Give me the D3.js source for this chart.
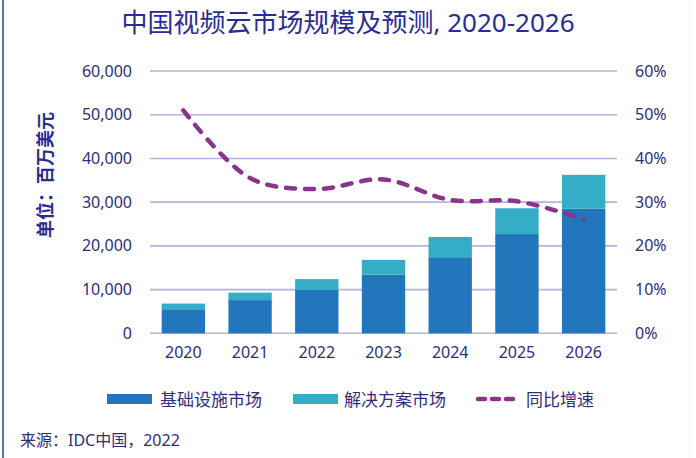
<!DOCTYPE html>
<html><head><meta charset="utf-8">
<script src="https://cdn.jsdelivr.net/npm/d3@7"></script>
<style>
body{margin:0;background:#fff;}
svg{display:block;}
text{font-family:"Noto Sans","Noto Sans CJK SC",sans-serif;}
</style></head>
<body>
<svg id="chart" width="696" height="458"></svg>
<script>
const years = ["2020","2021","2022","2023","2024","2025","2026"];
const infraValues = [5500, 7600, 9900, 13400, 17400, 22700, 28500];
const solutionValues = [1300, 1700, 2500, 3400, 4650, 5900, 7750];
const growthValues = [0.51, 0.355, 0.33, 0.352, 0.305, 0.302, 0.261];
const leftTicks = [0, 10000, 20000, 30000, 40000, 50000, 60000];
const rightTicks = [0, 0.1, 0.2, 0.3, 0.4, 0.5, 0.6];
const seriesNames = ["基础设施市场", "解决方案市场", "同比增速"];
const titleText = "中国视频云市场规模及预测, 2020-2026";
const yLabelText = "单位：百万美元";
const sourceText = "来源：IDC中国，2022";

const textColor = "#2c2e7c";
const titleColor = "#2a2c94";
const infraColor = "#2176bc";
const solColor = "#36adc7";
const lineColor = "#8a3589";
const gridColor = "#b3b4e0";

const svg = d3.select("#chart");
const L = 150, R = 617, T = 71, B = 333.3;

const x = d3.scaleBand().domain(years).range([L, R]).paddingInner(0.35).paddingOuter(0.175);
const y = d3.scaleLinear().domain([0, 60000]).range([B, T]);
const y2 = d3.scaleLinear().domain([0, 0.6]).range([B, T]);

// borders
svg.append("line").attr("x1",3).attr("x2",3).attr("y1",0).attr("y2",458)
  .attr("stroke","#4f7daa").attr("stroke-width",2);
svg.append("line").attr("x1",690).attr("x2",690).attr("y1",0).attr("y2",458)
  .attr("stroke","#eef2f6").attr("stroke-width",1);

// title
svg.append("text").attr("x",348).attr("y",32).attr("text-anchor","middle")
  .attr("font-size",26).attr("fill",titleColor).text(titleText);

// gridlines
svg.append("g").selectAll("line").data(leftTicks).join("line")
  .attr("x1",L).attr("x2",R).attr("y1",d=>y(d)).attr("y2",d=>y(d))
  .attr("stroke",gridColor).attr("stroke-width",1.6);

// left axis
const yAxis = d3.axisLeft(y).tickValues(leftTicks).tickSize(0).tickPadding(0)
  .tickFormat(d3.format(","));
const gl = svg.append("g").attr("transform",`translate(${L-18},0)`).call(yAxis);
gl.select(".domain").remove();
gl.selectAll("text").attr("font-size",16).attr("fill",textColor)
  .attr("font-family",'"Noto Sans",sans-serif');

// right axis
const yAxis2 = d3.axisRight(y2).tickValues(rightTicks).tickSize(0).tickPadding(0)
  .tickFormat(d3.format(".0%"));
const gr = svg.append("g").attr("transform",`translate(${R+18},0)`).call(yAxis2);
gr.select(".domain").remove();
gr.selectAll("text").attr("font-size",16).attr("fill",textColor)
  .attr("font-family",'"Noto Sans",sans-serif');

// x axis
const xAxis = d3.axisBottom(x).tickSize(0).tickPadding(0);
const gx = svg.append("g").attr("transform",`translate(0,${B+13})`).call(xAxis);
gx.select(".domain").remove();
gx.selectAll("text").attr("font-size",16).attr("fill",textColor)
  .attr("font-family",'"Noto Sans",sans-serif');

// y label
svg.append("text").attr("transform",`translate(52,175) rotate(-90)`)
  .attr("text-anchor","middle").attr("font-size",18).attr("font-weight","bold")
  .attr("fill",titleColor).text(yLabelText);

// bars
const stackData = years.map((yr,i)=>({year:yr, infra:infraValues[i], sol:solutionValues[i]}));
svg.append("g").selectAll("rect").data(stackData).join("rect")
  .attr("x",d=>x(d.year)).attr("width",x.bandwidth())
  .attr("y",d=>y(d.infra)).attr("height",d=>y(0)-y(d.infra)).attr("fill",infraColor);
svg.append("g").selectAll("rect").data(stackData).join("rect")
  .attr("x",d=>x(d.year)).attr("width",x.bandwidth())
  .attr("y",d=>y(d.infra+d.sol)).attr("height",d=>y(d.infra)-y(d.infra+d.sol)).attr("fill",solColor);

// growth line
const line = d3.line().x((d,i)=>x(years[i])+x.bandwidth()/2).y(d=>y2(d))
  .curve(d3.curveCatmullRom.alpha(0.5));
svg.append("path").datum(growthValues).attr("d",line).attr("fill","none")
  .attr("stroke",lineColor).attr("stroke-width",4.5).attr("stroke-linecap","round")
  .attr("stroke-dasharray","9,10");

// legend
const ly = 399;
svg.append("rect").attr("x",107).attr("y",ly-5).attr("width",45).attr("height",10).attr("fill",infraColor);
svg.append("text").attr("x",160).attr("y",ly).attr("dominant-baseline","central")
  .attr("font-size",17).attr("fill",textColor).attr("font-family",'"Noto Sans CJK SC",sans-serif').text(seriesNames[0]);
svg.append("rect").attr("x",293).attr("y",ly-5).attr("width",45).attr("height",10).attr("fill",solColor);
svg.append("text").attr("x",344).attr("y",ly).attr("dominant-baseline","central")
  .attr("font-size",17).attr("fill",textColor).attr("font-family",'"Noto Sans CJK SC",sans-serif').text(seriesNames[1]);
svg.append("line").attr("x1",478).attr("x2",517).attr("y1",ly).attr("y2",ly)
  .attr("stroke",lineColor).attr("stroke-width",4.5).attr("stroke-linecap","round")
  .attr("stroke-dasharray","7,7");
svg.append("text").attr("x",526).attr("y",ly).attr("dominant-baseline","central")
  .attr("font-size",17).attr("fill",textColor).attr("font-family",'"Noto Sans CJK SC",sans-serif').text(seriesNames[2]);

// source
svg.append("text").attr("x",20).attr("y",440).attr("dominant-baseline","central")
  .attr("font-size",16).attr("fill",textColor).attr("font-family",'"Noto Sans CJK SC",sans-serif').text(sourceText);
</script>
</body></html>
